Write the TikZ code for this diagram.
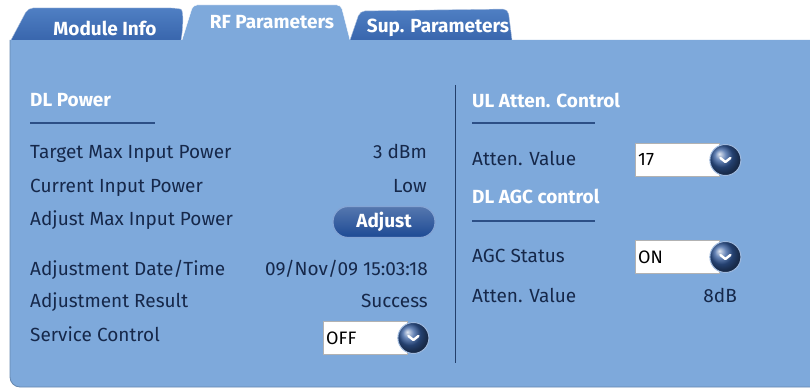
\documentclass[tikz,border=0pt]{standalone}
\usepackage{fontspec}
\setmainfont{Fira Sans}
\usetikzlibrary{positioning}
\definecolor{panelblue}{HTML}{7EA9DB}
\definecolor{tabblue}{HTML}{3966AD}
\definecolor{tabtop}{HTML}{4F7FC3}
\definecolor{textnavy}{HTML}{16284A}
\definecolor{rulenavy}{HTML}{2C4F86}
\definecolor{btnblue}{HTML}{1D4A94}

\begin{document}
\begin{tikzpicture}[x=1pt, y=-1pt,
  field/.style={anchor=base west, inner sep=0pt, text=textnavy, font=\fontsize{19}{22}\selectfont},
  reading/.style={anchor=base east, inner sep=0pt, text=textnavy, font=\fontsize{19}{22}\selectfont},
  heading/.style={anchor=base west, inner sep=0pt, text=white, font=\fontsize{19}{22}\selectfont\bfseries},
  tabtext/.style={text=white, font=\fontsize{19}{22}\selectfont\bfseries},
  rule/.style={rulenavy, line width=1.2pt},
  dropbox/.style={draw=gray!60, fill=white, anchor=west, text width=78pt, align=left, inner xsep=3pt, minimum height=33pt, text=black, font=\fontsize{18}{20}\selectfont},
  dropbtn/.style={circle, minimum size=31pt, inner sep=0pt, shading=ball, ball color=btnblue!90!white, draw=tabtop!55!white, line width=1pt,
    path picture={\draw[white, line width=2.4pt, line cap=round, line join=round]
      ([xshift=-5pt, yshift=2pt]path picture bounding box.center) -- ++(5pt,-4pt) -- ++(5pt,4pt);}},
  pill/.style={rounded corners=15pt, minimum width=102pt, minimum height=31pt, top color=btnblue!75!white, bottom color=btnblue, draw=tabtop!70!white, line width=1.2pt, text=white, font=\fontsize{19}{22}\selectfont\bfseries}
]
\useasboundingbox (0,0) rectangle (810,390);

% panel
\fill[panelblue] (10,40) -- (812,40) -- (812,387) -- (20,387) arc[start angle=90, end angle=180, radius=10] -- cycle;
\draw[panelblue!80!black, line width=0.8pt] (10,40) -- (10,377) arc[start angle=180, end angle=90, radius=10] -- (812,387);

% tabs
\draw[top color=tabtop, bottom color=tabblue, draw=white!60!tabblue, rounded corners=5pt] (11,40) -- (28,8) -- (176,8) .. controls (184,10) and (183,30) .. (181,40);
\draw[fill=panelblue, draw=white, rounded corners=4pt] (182,40) -- (193,5) -- (341,5) -- (350,40);
\draw[top color=tabtop, bottom color=tabblue, draw=white!60!tabblue, rounded corners=5pt] (350,40) -- (360,11) -- (508,9) -- (512,40);
\fill[panelblue] (12,40) rectangle (512,43);
\node[tabtext] (tab_module) at (105,28) {Module Info};
\node[tabtext] (tab_rf) at (272,22) {RF Parameters};
\node[tabtext] (tab_sup) at (438,28) {Sup. Parameters};

% DL power column
\node[heading] (dl_head) at (30,107) {DL Power};
\draw[rule] (30,123) -- (155,123);
\node[field] (target_lbl) at (30,159) {Target Max Input Power};
\node[reading] (target_val) at (427,159) {3 dBm};
\node[field] (current_lbl) at (30,192) {Current Input Power};
\node[reading] (current_val) at (427,192) {Low};
\node[field] (adjust_lbl) at (30,225) {Adjust Max Input Power};
\node[pill] (adjust_btn) at (384,222) {Adjust};
\node[field] (date_lbl) at (30,275) {Adjustment Date/Time};
\node[reading] (date_val) at (428,275) {09/Nov/09 15:03:18};
\node[field] (result_lbl) at (30,307) {Adjustment Result};
\node[reading] (result_val) at (428,307) {Success};
\node[field] (svc_lbl) at (30,341) {Service Control};
\node[dropbox] (svc_box) at (323,338) {OFF};
\node[dropbtn, right=-10pt of svc_box] (svc_btn) {};

% divider
\draw[rulenavy!80!black, line width=0.8pt] (455,85) -- (455,363);

% UL atten. and DL AGC column
\node[heading] (ul_head) at (472,108) {UL Atten. Control};
\draw[rule] (472,123) -- (595,123);
\node[field] (ul_lbl) at (472,165) {Atten. Value};
\node[dropbox] (ul_box) at (635,160) {17};
\node[dropbtn, right=-10pt of ul_box] (ul_btn) {};
\node[heading] (agc_head) at (472,203) {DL AGC control};
\draw[rule] (472,221) -- (595,221);
\node[field] (agc_lbl) at (472,262) {AGC Status};
\node[dropbox] (agc_box) at (635,257) {ON};
\node[dropbtn, right=-10pt of agc_box] (agc_btn) {};
\node[field] (att_lbl) at (472,302) {Atten. Value};
\node[reading] (att_val) at (737,302) {8dB};
\end{tikzpicture}
\end{document}
